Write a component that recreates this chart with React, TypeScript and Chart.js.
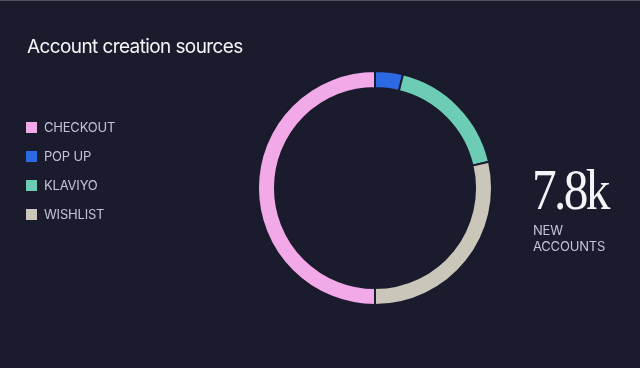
import React, { useEffect, useRef } from "react";
import { Chart, registerables } from "chart.js";

Chart.register(...registerables);

const title = "Account creation sources";
const categories = ["CHECKOUT", "POP UP", "KLAVIYO", "WISHLIST"];
const values = [3900, 300, 1370, 2230];
const colors = ["#f2a9e8", "#2d69e2", "#6dcdb4", "#cac6b9"];
const totalLabel = "7.8k";
const totalCaption = ["NEW", "ACCOUNTS"];

const BG = "#1b1b2e";

export default function App() {
  const ref = useRef<HTMLCanvasElement | null>(null);

  useEffect(() => {
    document.body.style.margin = "0";
    document.body.style.background = BG;
    const canvas = ref.current;
    if (!canvas) return;
    const chart = new Chart(canvas, {
      type: "doughnut",
      data: {
        labels: categories,
        datasets: [
          {
            data: values,
            backgroundColor: colors,
            borderColor: BG,
            borderWidth: 2,
            hoverOffset: 0,
          },
        ],
      },
      options: {
        responsive: false,
        animation: false,
        rotation: 180,
        cutout: "85.5%",
        layout: { padding: { left: 257, right: 147, top: 70, bottom: 62 } },
        plugins: {
          legend: { display: false },
          tooltip: { enabled: false },
          title: { display: false },
        },
      },
    });
    return () => chart.destroy();
  }, []);

  const sans = "Inter, 'Noto Sans', sans-serif";
  return (
    <div
      style={{
        position: "fixed",
        left: 0,
        top: 0,
        width: 640,
        height: 368,
        background: BG,
        overflow: "hidden",
        fontFamily: sans,
      }}
    >
      <div style={{ position: "absolute", left: 0, top: 0, width: 640, height: 1, background: "#50505e" }} />
      <canvas ref={ref} width={640} height={368} style={{ position: "absolute", left: 0, top: 0 }} />
      <div
        style={{
          position: "absolute",
          left: 27,
          top: 35,
          color: "#f4f4f6",
          fontSize: 19,
          letterSpacing: -0.6,
          whiteSpace: "nowrap",
          lineHeight: "24px",
        }}
      >
        {title}
      </div>
      {categories.map((c, i) => (
        <div
          key={c}
          style={{
            position: "absolute",
            left: 26,
            top: 118 + i * 29,
            height: 18,
            display: "flex",
            alignItems: "center",
            color: "#c4c3dc",
            fontSize: 13,
            letterSpacing: -0.2,
            whiteSpace: "nowrap",
          }}
        >
          <span style={{ display: "inline-block", width: 11, height: 11, background: colors[i], marginRight: 7 }} />
          {c}
        </div>
      ))}
      <div
        style={{
          position: "absolute",
          left: 532,
          top: 160,
          color: "#f4f4f6",
          fontFamily: "'Liberation Serif', 'DejaVu Serif', serif",
          fontSize: 56,
          letterSpacing: -3,
          lineHeight: "60px",
          whiteSpace: "nowrap",
          transform: "scaleX(0.88)",
          transformOrigin: "left top",
        }}
      >
        {totalLabel}
      </div>
      <div
        style={{
          position: "absolute",
          left: 533,
          top: 222,
          color: "#c4c3dc",
          fontSize: 13,
          lineHeight: "16px",
          letterSpacing: -0.2,
        }}
      >
        {totalCaption.map((t) => (
          <div key={t}>{t}</div>
        ))}
      </div>
    </div>
  );
}
